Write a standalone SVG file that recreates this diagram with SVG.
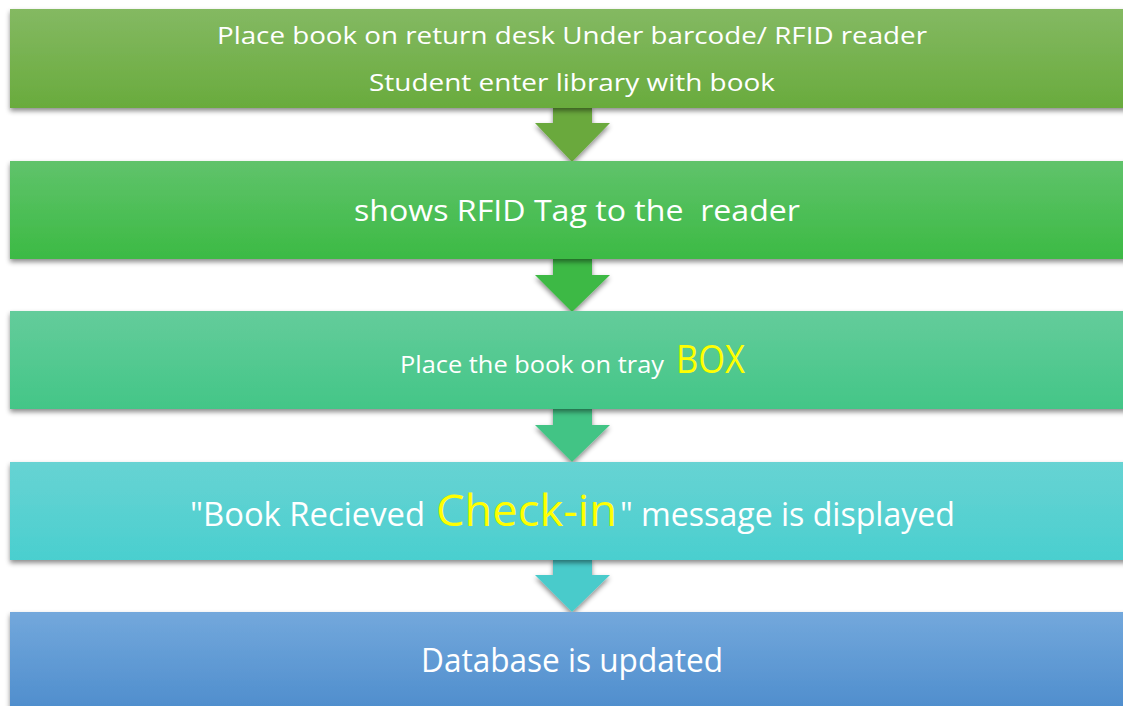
<svg xmlns="http://www.w3.org/2000/svg" width="1123" height="706" viewBox="0 0 1123 706">
<defs>
<linearGradient id="g1" x1="0" y1="0" x2="0" y2="1"><stop offset="0" stop-color="#84b962"/><stop offset="1" stop-color="#69ab3d"/></linearGradient>
<linearGradient id="g2" x1="0" y1="0" x2="0" y2="1"><stop offset="0" stop-color="#60c36b"/><stop offset="1" stop-color="#3cba44"/></linearGradient>
<linearGradient id="g3" x1="0" y1="0" x2="0" y2="1"><stop offset="0" stop-color="#64cc9b"/><stop offset="1" stop-color="#43c687"/></linearGradient>
<linearGradient id="g4" x1="0" y1="0" x2="0" y2="1"><stop offset="0" stop-color="#67d3d3"/><stop offset="1" stop-color="#4acfcf"/></linearGradient>
<linearGradient id="g5" x1="0" y1="0" x2="0" y2="1"><stop offset="0" stop-color="#73a8dc"/><stop offset="1" stop-color="#4a8acb"/></linearGradient>
<filter id="sh" x="-5%" y="-20%" width="110%" height="150%">
<feDropShadow dx="0" dy="3" stdDeviation="2.5" flood-color="#000" flood-opacity="0.45"/>
</filter>
</defs>
<style>
.t{font-family:"Open Sans","Noto Sans","Liberation Sans",sans-serif;fill:#ffffff}
.y{fill:#ffff00}
</style>
<rect width="1123" height="706" fill="#ffffff"/>
<g id="connectors">
<polygon filter="url(#sh)" fill="#6aa93d" points="553,106 592,106 592,123 610,123 572,162 535,123 553,123"/>
<polygon filter="url(#sh)" fill="#3db944" points="553,257 592,257 592,275 610,275 572,312 535,275 553,275"/>
<polygon filter="url(#sh)" fill="#43c485" points="553,407 592,407 592,425 610,425 572,462 535,425 553,425"/>
<polygon filter="url(#sh)" fill="#49cbcb" points="553,558 592,558 592,575 610,575 572,612 535,575 553,575"/>
</g>
<g id="node1">
<rect x="10" y="9" width="1130" height="99" fill="url(#g1)" filter="url(#sh)"/>
<text class="t" x="217" y="44" font-size="24" textLength="710" lengthAdjust="spacingAndGlyphs">Place book on return desk Under barcode/ RFID reader</text>
<text class="t" x="369" y="91" font-size="24" textLength="406" lengthAdjust="spacingAndGlyphs">Student enter library with book</text>
</g>
<g id="node2">
<rect x="10" y="161" width="1130" height="98" fill="url(#g2)" filter="url(#sh)"/>
<text class="t" x="354" y="221" font-size="30" textLength="446" lengthAdjust="spacingAndGlyphs" xml:space="preserve">shows RFID Tag to the  reader</text>
</g>
<g id="node3">
<rect x="10" y="311" width="1130" height="98" fill="url(#g3)" filter="url(#sh)"/>
<text class="t" x="400" y="373" font-size="24" textLength="264" lengthAdjust="spacingAndGlyphs">Place the book on tray</text>
<text class="t y" x="676" y="373" font-size="39" textLength="69" lengthAdjust="spacingAndGlyphs">BOX</text>
</g>
<g id="node4">
<rect x="10" y="462" width="1130" height="98" fill="url(#g4)" filter="url(#sh)"/>
<text class="t" x="190" y="526" font-size="32" textLength="235" lengthAdjust="spacingAndGlyphs">"Book Recieved</text>
<text class="t y" x="436" y="526" font-size="43" textLength="181" lengthAdjust="spacingAndGlyphs">Check-in</text>
<text class="t" x="620" y="526" font-size="32" textLength="335" lengthAdjust="spacingAndGlyphs">" message is displayed</text>
</g>
<g id="node5">
<rect x="10" y="612" width="1130" height="110" fill="url(#g5)" filter="url(#sh)"/>
<text class="t" x="421" y="672" font-size="32" textLength="302" lengthAdjust="spacingAndGlyphs">Database is updated</text>
</g>
</svg>
